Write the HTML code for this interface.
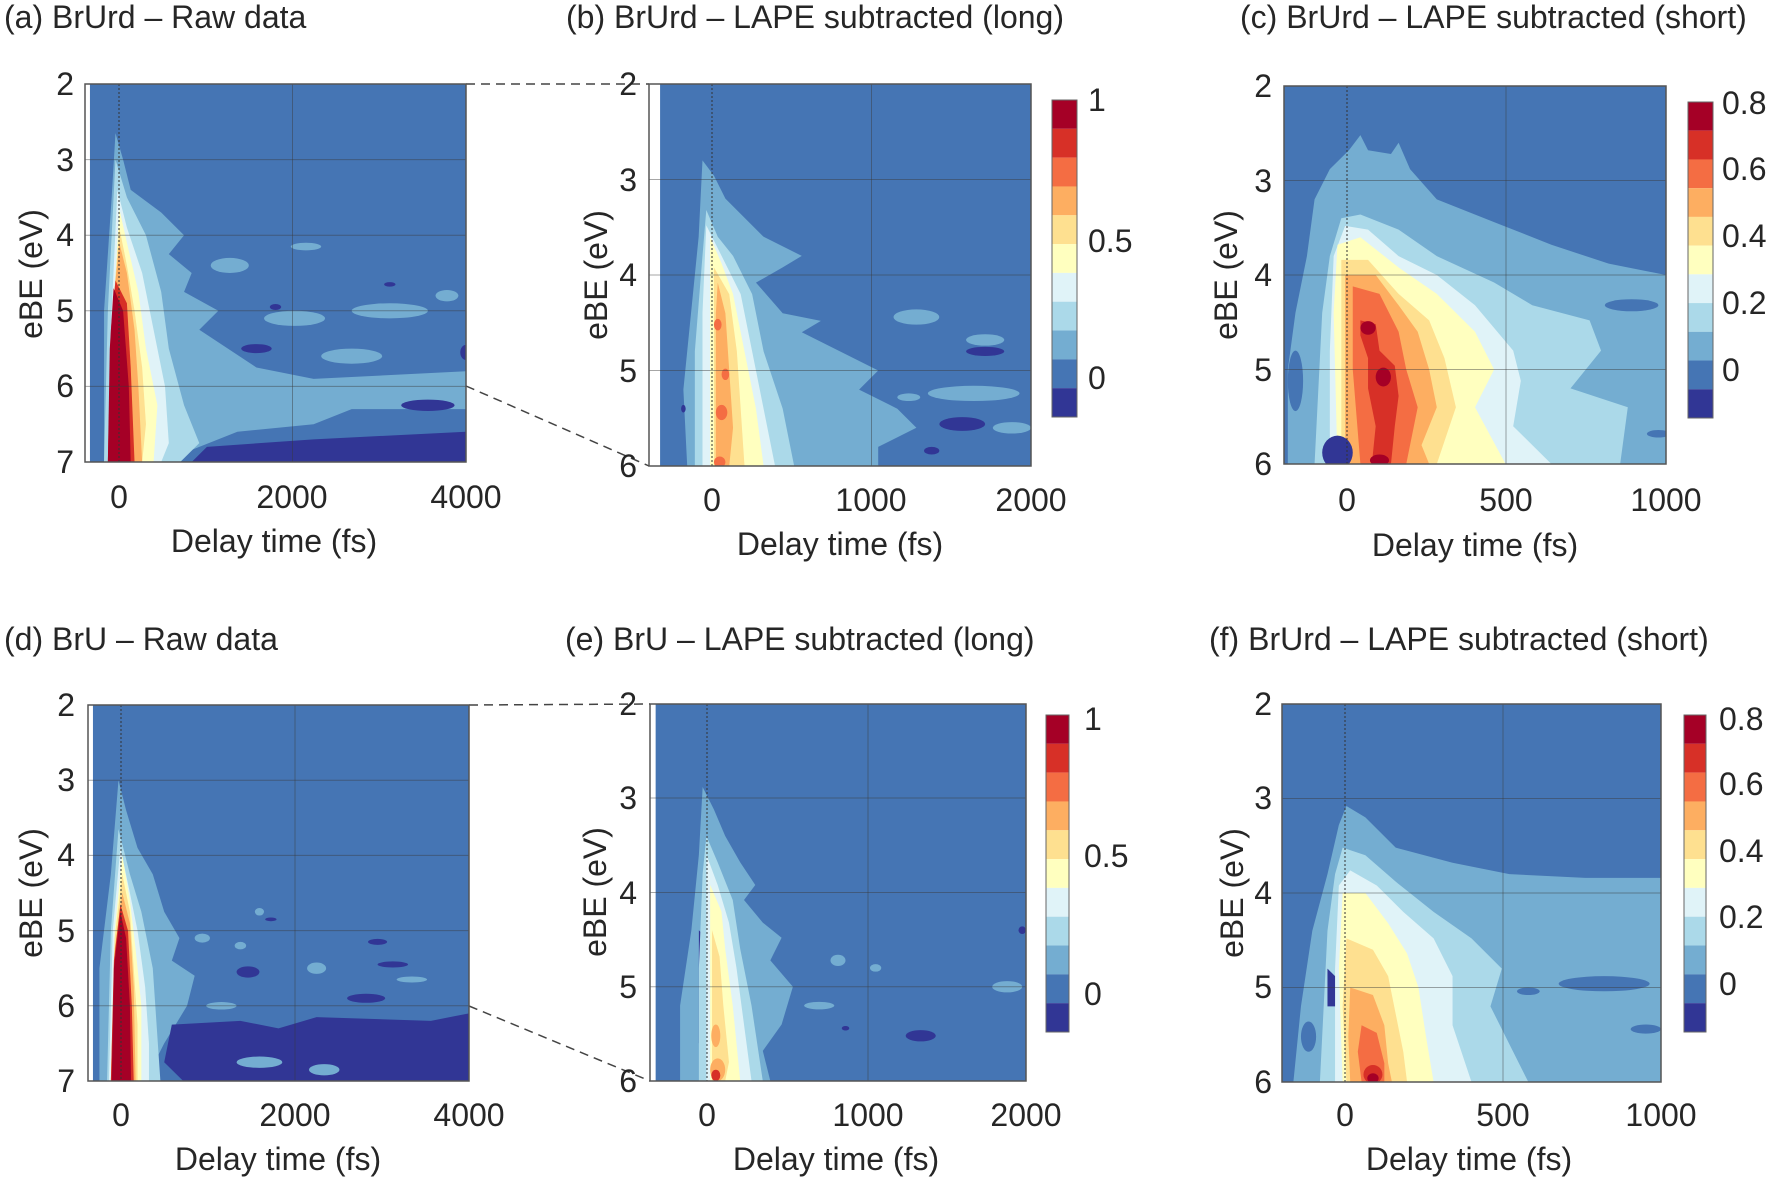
<!DOCTYPE html>
<html><head><meta charset="utf-8"><style>
html,body{margin:0;padding:0;background:#fff}
svg{display:block}
text{font-family:"Liberation Sans",Arial,sans-serif;fill:#262626}
.t{font-size:32px}
.tk{font-size:32px}
</style></head><body>
<svg width="1772" height="1184" viewBox="0 0 1772 1184" xmlns="http://www.w3.org/2000/svg">
<defs>
<g id="cbar">
<rect x="0" y="0" width="100" height="9.09" fill="#a50026"/>
<rect x="0" y="9.09" width="100" height="9.1" fill="#d73027"/>
<rect x="0" y="18.18" width="100" height="9.1" fill="#f46d43"/>
<rect x="0" y="27.27" width="100" height="9.1" fill="#fdae61"/>
<rect x="0" y="36.36" width="100" height="9.1" fill="#fee090"/>
<rect x="0" y="45.45" width="100" height="9.1" fill="#ffffbf"/>
<rect x="0" y="54.54" width="100" height="9.1" fill="#e0f3f8"/>
<rect x="0" y="63.63" width="100" height="9.1" fill="#abd9e9"/>
<rect x="0" y="72.72" width="100" height="9.1" fill="#74add1"/>
<rect x="0" y="81.81" width="100" height="9.1" fill="#4575b4"/>
<rect x="0" y="90.9" width="100" height="9.1" fill="#313695"/>
</g>
</defs>

<!-- Titles -->
<text class="t" x="4" y="28">(a) BrUrd – Raw data</text>
<text class="t" x="566" y="28">(b) BrUrd – LAPE subtracted (long)</text>
<text class="t" x="1240" y="28">(c) BrUrd – LAPE subtracted (short)</text>
<text class="t" x="4" y="650">(d) BrU – Raw data</text>
<text class="t" x="565" y="650">(e) BrU – LAPE subtracted (long)</text>
<text class="t" x="1209" y="650">(f) BrUrd – LAPE subtracted (short)</text>

<!-- dashed connectors -->
<g stroke="#444" stroke-width="1.5" stroke-dasharray="9,6" fill="none">
<line x1="466" y1="84" x2="649" y2="84"/>
<line x1="466" y1="386" x2="649" y2="466"/>
<line x1="469" y1="705" x2="650" y2="704"/>
<line x1="469" y1="1006" x2="650" y2="1081"/>
</g>

<!-- ===== Panel a ===== -->
<svg x="85" y="84" width="381" height="378" viewBox="0 0 100 100" preserveAspectRatio="none">
<rect x="1.3" y="0" width="98.7" height="100" fill="#4575b4"/>
<g fill="#74add1">
<polygon points="8,13 10,20 12,28 20,34 26,40 22,45 28,50 26,55 35,60 30,65 45,75 60,78 100,76 100,86 70,86 60,90 40,92 30,96 20,100 5,100 5,60 7,30"/>
<ellipse cx="38" cy="48" rx="5" ry="2"/><ellipse cx="58" cy="43" rx="4" ry="1"/>
<ellipse cx="55" cy="62" rx="8" ry="2"/><ellipse cx="80" cy="60" rx="10" ry="2"/><ellipse cx="95" cy="56" rx="3" ry="1.5"/>
<ellipse cx="70" cy="72" rx="8" ry="2"/>
</g>
<g fill="#313695">
<polygon points="32,96 60,94 100,92 100,100 28,100"/>
<ellipse cx="45" cy="70" rx="4" ry="1.2"/><ellipse cx="90" cy="85" rx="7" ry="1.5"/><ellipse cx="100" cy="71" rx="1.5" ry="2"/>
<ellipse cx="50" cy="59" rx="1.5" ry="0.8"/><ellipse cx="80" cy="53" rx="1.5" ry="0.6"/>
</g>
<polygon fill="#abd9e9" points="8,20 11,30 16,40 20,55 22,70 26,85 30,95 25,100 5,100 6,60"/>
<polygon fill="#e0f3f8" points="8.5,28 11,38 15,50 18,65 21,80 22,95 20,100 6,100 7,60"/>
<polygon fill="#ffffbf" points="9,33 11,42 14,55 16,70 19,85 18,100 6.5,100 7.5,60"/>
<polygon fill="#fee090" points="9,38 11,48 13,60 15,75 16,90 15,100 6.3,100 7.3,60"/>
<polygon fill="#fdae61" points="9,42 11,50 13,65 14,80 15,100 6.2,100 7.2,60"/>
<polygon fill="#d73027" points="8,52 11,58 12,75 13,100 6,100 6.8,65"/>
<polygon fill="#a50026" points="7.5,54 10,60 11.5,80 12,100 6,100 6.5,70"/>
</svg>
<g stroke="#3a3a3a" stroke-opacity="0.45" stroke-width="1">
<line x1="85" y1="159.6" x2="466" y2="159.6"/><line x1="85" y1="235.2" x2="466" y2="235.2"/><line x1="85" y1="310.8" x2="466" y2="310.8"/><line x1="85" y1="386.4" x2="466" y2="386.4"/>
<line x1="292.5" y1="84" x2="292.5" y2="462"/>
</g>
<line x1="119" y1="84" x2="119" y2="462" stroke="#333" stroke-dasharray="2,2"/>
<rect x="85" y="84" width="381" height="378" fill="none" stroke="#555" stroke-width="1.5"/>
<g class="tk" text-anchor="end">
<text x="74" y="95">2</text><text x="74" y="171">3</text><text x="74" y="246">4</text><text x="74" y="322">5</text><text x="74" y="397">6</text><text x="74" y="473">7</text>
</g>
<g class="tk" text-anchor="middle">
<text x="119" y="508">0</text><text x="292" y="508">2000</text><text x="466" y="508">4000</text>
<text x="274" y="552">Delay time (fs)</text>
</g>
<text class="tk" text-anchor="middle" transform="translate(42,274) rotate(-90)">eBE (eV)</text>

<!-- ===== Panel b ===== -->
<svg x="649" y="84" width="382" height="382" viewBox="0 0 100 100" preserveAspectRatio="none">
<rect x="2.9" y="0" width="97.1" height="100" fill="#4575b4"/>
<g fill="#74add1">
<polygon points="14,20 17,24 20,30 25,35 30,40 40,45 35,48 28,52 35,60 45,62 40,65 50,70 60,75 55,80 65,85 70,90 60,95 60,100 10,100 9,80 11,60 13,40"/>
<ellipse cx="70" cy="61" rx="6" ry="2"/><ellipse cx="88" cy="67" rx="5" ry="1.5"/><ellipse cx="85" cy="81" rx="12" ry="2"/><ellipse cx="68" cy="82" rx="3" ry="1"/>
<ellipse cx="95" cy="90" rx="5" ry="1.5"/>
</g>
<g fill="#313695">
<rect x="14.5" y="92" width="3" height="8"/>
<ellipse cx="88" cy="70" rx="5" ry="1.2"/><ellipse cx="82" cy="89" rx="6" ry="1.8"/><ellipse cx="74" cy="96" rx="2" ry="1"/><ellipse cx="9" cy="85" rx="0.6" ry="1"/>
</g>
<polygon fill="#abd9e9" points="15,33 18,40 22,45 27,55 30,70 35,85 38,100 12,100 12,70 14,45"/>
<polygon fill="#e0f3f8" points="15,37 19,45 24,55 27,70 30,85 33,100 14,100 14,60"/>
<polygon fill="#ffffbf" points="16,40 19,47 22,55 25,70 28,85 30,100 16,100 16,60"/>
<polygon fill="#fee090" points="17,48 21,55 23,70 24,85 25,100 17,100"/>
<polygon fill="#fdae61" points="18,52 20,60 21,75 22,90 21,100 17.5,100 17.5,60"/>
<g fill="#f46d43"><ellipse cx="18" cy="63" rx="1" ry="1.5"/><ellipse cx="20" cy="76" rx="1" ry="1.5"/><ellipse cx="19" cy="86" rx="1.5" ry="2"/><ellipse cx="18.5" cy="99" rx="1.5" ry="1.5"/></g>
</svg>
<g stroke="#3a3a3a" stroke-opacity="0.45" stroke-width="1">
<line x1="649" y1="179.5" x2="1031" y2="179.5"/><line x1="649" y1="275" x2="1031" y2="275"/><line x1="649" y1="370.5" x2="1031" y2="370.5"/>
<line x1="871.5" y1="84" x2="871.5" y2="466"/>
</g>
<line x1="712" y1="84" x2="712" y2="466" stroke="#333" stroke-dasharray="2,2"/>
<rect x="649" y="84" width="382" height="382" fill="none" stroke="#555" stroke-width="1.5"/>
<g class="tk" text-anchor="end">
<text x="637" y="95">2</text><text x="637" y="191">3</text><text x="637" y="286">4</text><text x="637" y="382">5</text><text x="637" y="477">6</text>
</g>
<g class="tk" text-anchor="middle">
<text x="712" y="511">0</text><text x="871" y="511">1000</text><text x="1031" y="511">2000</text>
<text x="840" y="555">Delay time (fs)</text>
</g>
<text class="tk" text-anchor="middle" transform="translate(607,275) rotate(-90)">eBE (eV)</text>
<svg x="1052" y="100" width="25" height="317" viewBox="0 0 100 100" preserveAspectRatio="none"><use href="#cbar"/></svg>
<rect x="1052" y="100" width="25" height="317" fill="none" stroke="#666"/>
<g class="tk"><text x="1088" y="111">1</text><text x="1088" y="252">0.5</text><text x="1088" y="389">0</text></g>

<!-- ===== Panel c ===== -->
<svg x="1284" y="86" width="382" height="378" viewBox="0 0 100 100" preserveAspectRatio="none">
<rect x="0" y="0" width="100" height="100" fill="#4575b4"/>
<polygon fill="#74add1" points="1,75 3,60 6,45 8,30 12,22 17,17 20,13 22,17 28,18 30,15 33,22 40,30 55,36 70,42 85,47 100,50 100,100 1,100"/>
<g fill="#4575b4"><ellipse cx="91" cy="58" rx="7" ry="1.6"/><ellipse cx="98" cy="92" rx="3" ry="1"/><ellipse cx="3" cy="78" rx="2" ry="8"/></g>
<polygon fill="#abd9e9" points="10,60 12,45 15,35 20,34 30,38 40,45 55,52 65,58 80,62 83,70 75,80 90,85 88,100 8,100 9,80"/>
<polygon fill="#e0f3f8" points="13,45 16,37 22,38 30,45 40,50 50,58 60,70 62,78 60,90 70,100 12,100 12,70"/>
<polygon fill="#ffffbf" points="14,42 20,40 30,48 40,55 50,65 55,75 50,85 58,100 14,100 13,60"/>
<polygon fill="#fee090" points="15,46 22,46 30,55 38,62 42,72 45,85 40,100 15,100 15,60"/>
<polygon fill="#fdae61" points="16,50 24,50 30,58 35,65 38,75 40,85 36,95 38,100 16,100 16,60"/>
<polygon fill="#f46d43" points="18,53 25,55 30,65 32,75 35,85 32,100 20,100 18,75"/>
<polygon fill="#d73027" points="20,62 24,63 25,70 29,74 30,82 29,90 28,100 23,100 24,90 22,80 22,72 20,66"/>
<g fill="#a50026"><ellipse cx="22" cy="64" rx="2" ry="1.8"/><ellipse cx="26" cy="77" rx="2" ry="2.5"/><ellipse cx="25" cy="99" rx="2.5" ry="1.5"/></g>
<ellipse fill="#313695" cx="14" cy="97" rx="4" ry="4.5"/>
</svg>
<g stroke="#3a3a3a" stroke-opacity="0.45" stroke-width="1">
<line x1="1284" y1="180.5" x2="1666" y2="180.5"/><line x1="1284" y1="275" x2="1666" y2="275"/><line x1="1284" y1="369.5" x2="1666" y2="369.5"/>
<line x1="1506" y1="86" x2="1506" y2="464"/>
</g>
<line x1="1347" y1="86" x2="1347" y2="464" stroke="#333" stroke-dasharray="2,2"/>
<rect x="1284" y="86" width="382" height="378" fill="none" stroke="#555" stroke-width="1.5"/>
<g class="tk" text-anchor="end">
<text x="1272" y="97">2</text><text x="1272" y="192">3</text><text x="1272" y="286">4</text><text x="1272" y="381">5</text><text x="1272" y="475">6</text>
</g>
<g class="tk" text-anchor="middle">
<text x="1347" y="511">0</text><text x="1506" y="511">500</text><text x="1666" y="511">1000</text>
<text x="1475" y="556">Delay time (fs)</text>
</g>
<text class="tk" text-anchor="middle" transform="translate(1237,275) rotate(-90)">eBE (eV)</text>
<svg x="1688" y="102" width="25" height="316" viewBox="0 0 100 100" preserveAspectRatio="none"><use href="#cbar"/></svg>
<rect x="1688" y="102" width="25" height="316" fill="none" stroke="#666"/>
<g class="tk"><text x="1722" y="114">0.8</text><text x="1722" y="180">0.6</text><text x="1722" y="247">0.4</text><text x="1722" y="314">0.2</text><text x="1722" y="381">0</text></g>

<!-- ===== Panel d ===== -->
<svg x="88" y="705" width="381" height="376" viewBox="0 0 100 100" preserveAspectRatio="none">
<rect x="1.3" y="0" width="98.7" height="100" fill="#4575b4"/>
<g fill="#74add1">
<polygon points="8,20 10,28 13,38 17,45 20,55 24,62 22,68 28,72 26,80 20,90 15,100 3,100 3,70 6,45"/>
<ellipse cx="30" cy="62" rx="2" ry="1.2"/><ellipse cx="40" cy="64" rx="1.5" ry="1"/><ellipse cx="60" cy="70" rx="2.5" ry="1.5"/><ellipse cx="45" cy="55" rx="1.2" ry="1"/>
<ellipse cx="85" cy="73" rx="4" ry="0.8"/><ellipse cx="35" cy="80" rx="4" ry="1"/><ellipse cx="60" cy="90" rx="8" ry="2"/>
</g>
<g fill="#313695">
<polygon points="22,85 40,84 50,86 60,83 90,84 100,82 100,100 25,100 20,95"/>
<ellipse cx="42" cy="71" rx="3" ry="1.5"/><ellipse cx="76" cy="63" rx="2.5" ry="0.8"/><ellipse cx="80" cy="69" rx="4" ry="0.8"/><ellipse cx="73" cy="78" rx="5" ry="1.2"/><ellipse cx="48" cy="57" rx="1.5" ry="0.5"/>
</g>
<g fill="#74add1"><ellipse cx="45" cy="95" rx="6" ry="1.5"/><ellipse cx="62" cy="97" rx="4" ry="1.5"/></g>
<polygon fill="#abd9e9" points="8,33 11,45 14,55 17,70 18,85 19,100 5,100 6,60"/>
<polygon fill="#e0f3f8" points="8.5,38 11,50 13,60 15,75 16,90 16,100 5.5,100 6.5,60"/>
<polygon fill="#ffffbf" points="9,40 11,52 12.5,65 14,80 14,100 6,100 7,60"/>
<polygon fill="#fee090" points="9,45 11,55 12,70 13,85 13,100 6,100 7,62"/>
<polygon fill="#fdae61" points="9,50 11,58 12,75 12.5,100 6,100 7,65"/>
<polygon fill="#d73027" points="8.5,53 10.5,60 11.5,80 12,100 6,100 6.8,68"/>
<polygon fill="#a50026" points="8.5,55 10,62 11,80 11.3,100 6.2,100 6.8,70"/>
</svg>
<g stroke="#3a3a3a" stroke-opacity="0.45" stroke-width="1">
<line x1="88" y1="780.2" x2="469" y2="780.2"/><line x1="88" y1="855.4" x2="469" y2="855.4"/><line x1="88" y1="930.6" x2="469" y2="930.6"/><line x1="88" y1="1005.8" x2="469" y2="1005.8"/>
<line x1="295" y1="705" x2="295" y2="1081"/>
</g>
<line x1="121" y1="705" x2="121" y2="1081" stroke="#333" stroke-dasharray="2,2"/>
<rect x="88" y="705" width="381" height="376" fill="none" stroke="#555" stroke-width="1.5"/>
<g class="tk" text-anchor="end">
<text x="75" y="716">2</text><text x="75" y="791">3</text><text x="75" y="866">4</text><text x="75" y="942">5</text><text x="75" y="1017">6</text><text x="75" y="1092">7</text>
</g>
<g class="tk" text-anchor="middle">
<text x="121" y="1126">0</text><text x="295" y="1126">2000</text><text x="469" y="1126">4000</text>
<text x="278" y="1170">Delay time (fs)</text>
</g>
<text class="tk" text-anchor="middle" transform="translate(42,893) rotate(-90)">eBE (eV)</text>

<!-- ===== Panel e ===== -->
<svg x="650" y="704" width="376" height="377" viewBox="0 0 100 100" preserveAspectRatio="none">
<rect x="1.5" y="0" width="98.5" height="100" fill="#4575b4"/>
<g fill="#74add1">
<polygon points="14,22 17,28 20,35 24,42 28,48 25,52 30,58 35,62 32,68 38,75 35,85 30,92 32,100 8,100 8,80 11,60 13,40"/>
<ellipse cx="50" cy="68" rx="2" ry="1.5"/><ellipse cx="60" cy="70" rx="1.5" ry="1"/><ellipse cx="45" cy="80" rx="4" ry="1"/><ellipse cx="95" cy="75" rx="4" ry="1.5"/>
</g>
<g fill="#313695">
<polygon points="13,60 15,62 15,90 13,90"/>
<ellipse cx="72" cy="88" rx="4" ry="1.5"/><ellipse cx="99" cy="60" rx="1" ry="1"/><ellipse cx="52" cy="86" rx="1" ry="0.6"/>
</g>
<polygon fill="#abd9e9" points="15,35 18,42 22,52 24,65 27,80 30,100 13,100 13,70 14,45"/>
<polygon fill="#e0f3f8" points="15,40 18,48 21,58 23,70 25,85 27,100 15,100 15,60"/>
<polygon fill="#ffffbf" points="16,48 19,55 20,65 22,80 24,100 16,100 16,60"/>
<polygon fill="#fee090" points="16.5,60 18.5,67 19.5,80 21,95 20,100 16.5,100"/>
<g fill="#fdae61"><ellipse cx="17.5" cy="88" rx="1.2" ry="3"/><ellipse cx="18" cy="97" rx="2" ry="3"/></g>
<ellipse fill="#d73027" cx="17.5" cy="98.5" rx="1.2" ry="1.5"/>
</svg>
<g stroke="#3a3a3a" stroke-opacity="0.45" stroke-width="1">
<line x1="650" y1="798" x2="1026" y2="798"/><line x1="650" y1="892.5" x2="1026" y2="892.5"/><line x1="650" y1="986.75" x2="1026" y2="986.75"/>
<line x1="868" y1="704" x2="868" y2="1081"/>
</g>
<line x1="707" y1="704" x2="707" y2="1081" stroke="#333" stroke-dasharray="2,2"/>
<rect x="650" y="704" width="376" height="377" fill="none" stroke="#555" stroke-width="1.5"/>
<g class="tk" text-anchor="end">
<text x="637" y="715">2</text><text x="637" y="809">3</text><text x="637" y="904">4</text><text x="637" y="998">5</text><text x="637" y="1092">6</text>
</g>
<g class="tk" text-anchor="middle">
<text x="707" y="1126">0</text><text x="868" y="1126">1000</text><text x="1026" y="1126">2000</text>
<text x="836" y="1170">Delay time (fs)</text>
</g>
<text class="tk" text-anchor="middle" transform="translate(606,892) rotate(-90)">eBE (eV)</text>
<svg x="1046" y="715" width="23" height="317" viewBox="0 0 100 100" preserveAspectRatio="none"><use href="#cbar"/></svg>
<rect x="1046" y="715" width="23" height="317" fill="none" stroke="#666"/>
<g class="tk"><text x="1084" y="730">1</text><text x="1084" y="867">0.5</text><text x="1084" y="1005">0</text></g>

<!-- ===== Panel f ===== -->
<svg x="1282" y="704" width="379" height="378" viewBox="0 0 100 100" preserveAspectRatio="none">
<rect x="0" y="0" width="100" height="100" fill="#4575b4"/>
<polygon fill="#74add1" points="3,100 5,80 8,60 12,45 15,32 17,27 22,30 30,38 45,42 60,45 80,46 100,46 100,100"/>
<g fill="#4575b4"><ellipse cx="85" cy="74" rx="12" ry="2"/><ellipse cx="65" cy="76" rx="3" ry="1"/><ellipse cx="96" cy="86" rx="4" ry="1.2"/><ellipse cx="7" cy="88" rx="2" ry="4"/></g>
<polygon fill="#abd9e9" points="12,60 14,45 16,38 22,40 30,47 40,55 50,62 58,70 55,80 60,90 65,100 10,100 11,80"/>
<polygon fill="#e0f3f8" points="15,48 18,44 25,48 32,55 40,62 45,72 45,85 50,100 14,100 14,70"/>
<polygon fill="#ffffbf" points="16,50 22,50 28,58 33,66 36,75 38,88 40,100 16,100 15,70"/>
<polygon fill="#fee090" points="17,62 24,65 28,72 30,82 32,92 33,100 17,100 16,80"/>
<polygon fill="#fdae61" points="18,75 24,77 27,85 28,95 29,100 18,100 17.5,88"/>
<polygon fill="#f46d43" points="21,85 25,87 27,95 27,100 21,100 20,92"/>
<ellipse fill="#d73027" cx="24" cy="98" rx="2.5" ry="2.5"/>
<ellipse fill="#a50026" cx="24" cy="99" rx="1.5" ry="1.3"/>
<polygon fill="#313695" points="12,70 14,72 14,80 12,80"/>
</svg>
<g stroke="#3a3a3a" stroke-opacity="0.45" stroke-width="1">
<line x1="1282" y1="798.5" x2="1661" y2="798.5"/><line x1="1282" y1="893" x2="1661" y2="893"/><line x1="1282" y1="987.5" x2="1661" y2="987.5"/>
<line x1="1503" y1="704" x2="1503" y2="1082"/>
</g>
<line x1="1345" y1="704" x2="1345" y2="1082" stroke="#333" stroke-dasharray="2,2"/>
<rect x="1282" y="704" width="379" height="378" fill="none" stroke="#555" stroke-width="1.5"/>
<g class="tk" text-anchor="end">
<text x="1272" y="715">2</text><text x="1272" y="809">3</text><text x="1272" y="904">4</text><text x="1272" y="998">5</text><text x="1272" y="1093">6</text>
</g>
<g class="tk" text-anchor="middle">
<text x="1345" y="1126">0</text><text x="1503" y="1126">500</text><text x="1661" y="1126">1000</text>
<text x="1469" y="1170">Delay time (fs)</text>
</g>
<text class="tk" text-anchor="middle" transform="translate(1243,893) rotate(-90)">eBE (eV)</text>
<svg x="1684" y="715" width="22" height="317" viewBox="0 0 100 100" preserveAspectRatio="none"><use href="#cbar"/></svg>
<rect x="1684" y="715" width="22" height="317" fill="none" stroke="#666"/>
<g class="tk"><text x="1719" y="730">0.8</text><text x="1719" y="795">0.6</text><text x="1719" y="862">0.4</text><text x="1719" y="928">0.2</text><text x="1719" y="995">0</text></g>
</svg>
</body></html>
